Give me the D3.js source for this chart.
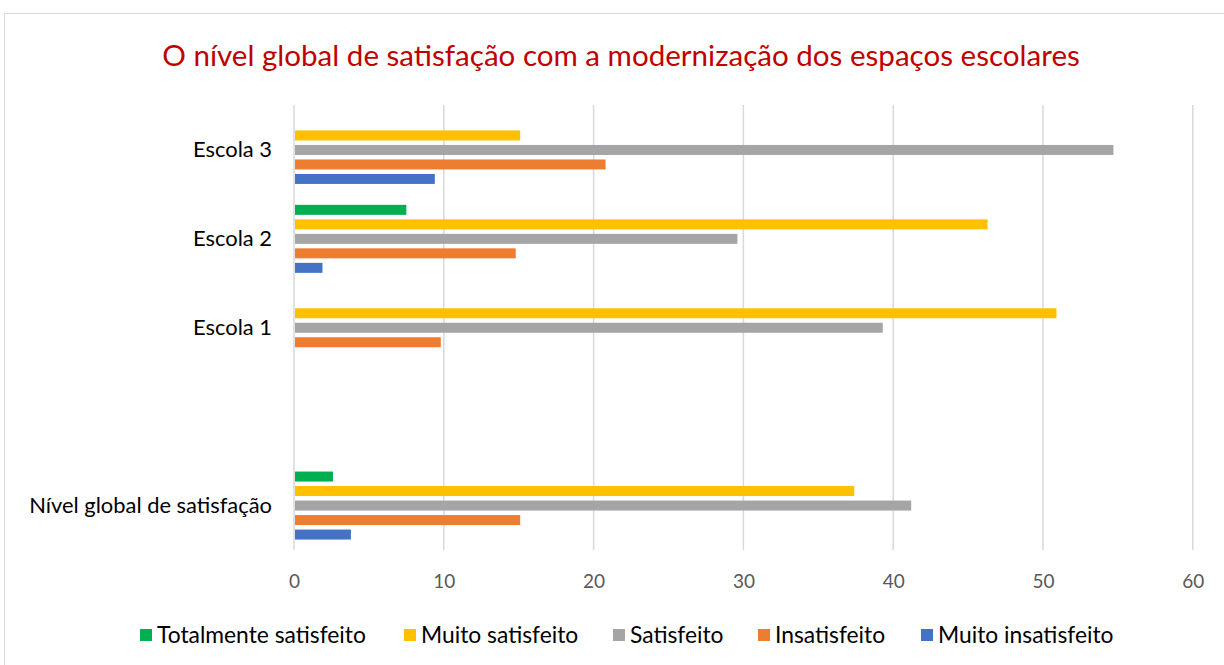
<!DOCTYPE html>
<html><head><meta charset="utf-8">
<script src="https://cdn.jsdelivr.net/npm/d3@7"></script>
<style>body{margin:0;background:#fff}svg{display:block}</style>
</head><body>
<svg id="c" width="1224" height="665"></svg>
<script>
const title = "O nível global de satisfação com a modernização dos espaços escolares";
const categories = ["Escola 3", "Escola 2", "Escola 1", "", "Nível global de satisfação"];
const series = ["Totalmente satisfeito", "Muito satisfeito", "Satisfeito", "Insatisfeito", "Muito insatisfeito"];
const colors = ["#00B050", "#FFC000", "#A5A5A5", "#ED7D31", "#4472C4"];
// values per series, in the order of categories
const totalmenteSatisfeito = [null, 7.5, null, null, 2.6];
const muitoSatisfeito     = [15.1, 46.3, 50.9, null, 37.4];
const satisfeito          = [54.7, 29.6, 39.3, null, 41.2];
const insatisfeito        = [20.8, 14.8, 9.8, null, 15.1];
const muitoInsatisfeito   = [9.4, 1.9, null, null, 3.8];
const xTicks = [0, 10, 20, 30, 40, 50, 60];

const values = [totalmenteSatisfeito, muitoSatisfeito, satisfeito, insatisfeito, muitoInsatisfeito];
const catKeys = categories.map((c, i) => "k" + i);

const svg = d3.select("#c");
const FONT = "Lato, 'Open Sans', sans-serif";

// chart frame
svg.append("rect").attr("x", 4.5).attr("y", 13.5).attr("width", 1240).attr("height", 700)
  .attr("fill", "#fff").attr("stroke", "#d9d9d9").attr("stroke-width", 1);

function fitSize(sel, target) {
  sel.attr("font-size", 100);
  const w = sel.node().getComputedTextLength();
  return 100 * target / w;
}

const x = d3.scaleLinear().domain([0, 60]).range([294, 1192.8]);
const y = d3.scaleBand().domain(catKeys).range([105.5, 550]).paddingInner(0).paddingOuter(0);
const inner = d3.scaleBand().domain(series).range([8.2, y.bandwidth() - 8.2]).paddingInner(0.31).paddingOuter(0.155);

// gridlines
svg.append("g").selectAll("line").data(xTicks).join("line")
  .attr("x1", d => x(d)).attr("x2", d => x(d))
  .attr("y1", 105).attr("y2", 550)
  .attr("stroke", "#d9d9d9").attr("stroke-width", 1.5);

// bars
const gCats = svg.append("g").selectAll("g").data(catKeys).join("g")
  .attr("transform", d => `translate(0,${y(d)})`);
series.forEach((s, si) => {
  gCats.filter((d, ci) => values[si][ci] != null)
    .append("rect")
    .attr("x", x(0) + 1)
    .attr("y", (d) => inner(s))
    .attr("height", inner.bandwidth())
    .attr("width", (d) => x(values[si][catKeys.indexOf(d)]) - x(0) - 1)
    .attr("fill", colors[si]);
});

// x axis tick labels
const xAxis = svg.append("g").attr("transform", "translate(0,582)")
  .call(d3.axisBottom(x).tickValues(xTicks).tickSize(0).tickPadding(0));
xAxis.select(".domain").remove();
xAxis.selectAll("text").attr("font-family", FONT).attr("font-size", 19)
  .attr("fill", "#595959").attr("dy", "0.32em").attr("y", 0);

// y axis labels
const yAxis = svg.append("g").attr("transform", "translate(272,0)")
  .call(d3.axisLeft(y).tickFormat((d, i) => categories[i]).tickSize(0).tickPadding(0));
yAxis.select(".domain").remove();
yAxis.selectAll("text").attr("font-family", FONT).attr("fill", "#000").attr("dy", "0.32em");
const s1 = fitSize(yAxis.selectAll("text").filter((d, i) => i === 0), 78);
const s2 = fitSize(yAxis.selectAll("text").filter((d, i) => i === 4), 246);
yAxis.selectAll("text").attr("font-size", (s1 + s2) / 2);

// title
const t = svg.append("text").attr("x", 621).attr("y", 56).attr("text-anchor", "middle")
  .attr("font-family", FONT).attr("fill", "#C00000").attr("dy", "0.35em").text(title);
t.attr("font-size", fitSize(t, 918));

// legend
const legX = [140, 404, 613, 758, 921];
const leg = svg.append("g").selectAll("g").data(series).join("g")
  .attr("transform", (d, i) => `translate(${legX[i]},635)`);
leg.append("rect").attr("x", 0).attr("y", -6).attr("width", 12).attr("height", 12)
  .attr("fill", (d, i) => colors[i]);
const lt = leg.append("text").attr("x", 17).attr("dy", "0.35em").attr("font-family", FONT)
  .attr("fill", "#000").text(d => d);
const ls = fitSize(lt.filter((d, i) => i === 0), 209);
lt.attr("font-size", ls);
</script>
</body></html>
